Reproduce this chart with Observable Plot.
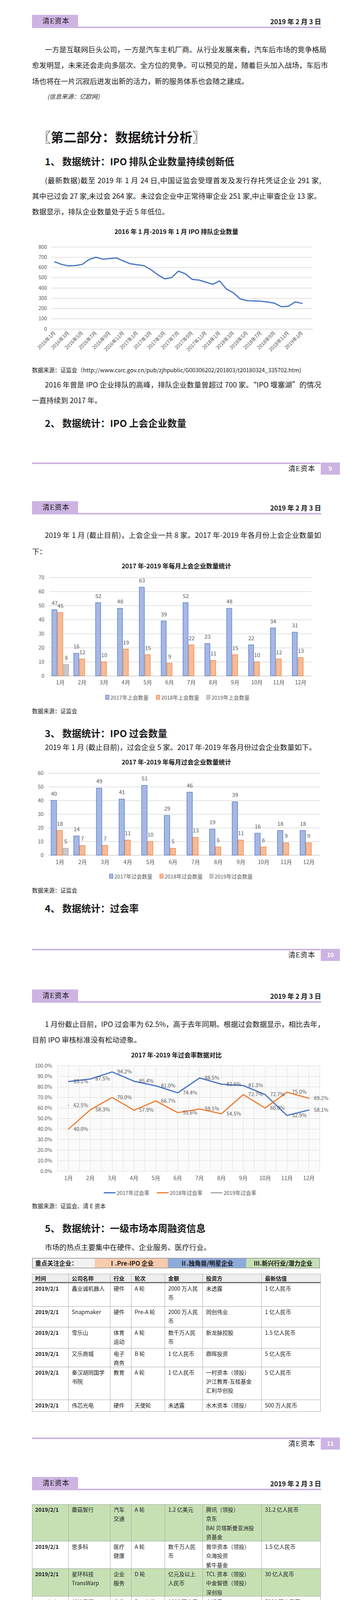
<!DOCTYPE html>
<html><head><meta charset="utf-8">
<script src="https://cdn.jsdelivr.net/npm/d3@7"></script>
<script src="https://cdn.jsdelivr.net/npm/@observablehq/plot@0.6"></script>
<style>
html,body{margin:0;padding:0;background:#fff;}
#page{position:relative;width:897px;height:4991px;overflow:hidden;background:#fff;font-family:"Noto Sans CJK SC","Noto Sans",sans-serif;color:#1a1a1a;}
#page div{box-sizing:border-box;}
</style></head><body><div id="page"></div>
<script>
// ---------------- DATA ----------------
const queueMonths = ["2016年1月","2016年2月","2016年3月","2016年4月","2016年5月","2016年6月","2016年7月","2016年8月","2016年9月","2016年10月","2016年11月","2016年12月",
  "2017年1月","2017年2月","2017年3月","2017年4月","2017年5月","2017年6月","2017年7月","2017年8月","2017年9月","2017年10月","2017年11月","2017年12月",
  "2018年1月","2018年2月","2018年3月","2018年4月","2018年5月","2018年6月","2018年7月","2018年8月","2018年9月","2018年10月","2018年11月","2018年12月",
  "2019年1月","2019年2月"];
const queueCounts = [656,631,616,620,631,679,701,682,688,694,664,637,628,618,580,530,490,502,565,540,485,478,458,437,470,390,355,294,277,274,272,264,252,218,223,265,251];
const queueTicks = [0,100,200,300,400,500,600,700,800];

const months = ["1月","2月","3月","4月","5月","6月","7月","8月","9月","10月","11月","12月"];

const meetingSeries = ["2017年上会数量","2018年上会数量","2019年上会数量"];
const meeting2017 = [47,16,52,48,63,39,52,23,48,22,34,31];
const meeting2018 = [45,12,10,19,15,9,22,11,15,10,12,13];
const meeting2019 = [8];
const meetingTicks = [0,10,20,30,40,50,60,70];

const passSeries = ["2017年过会数量","2018年过会数量","2019年过会数量"];
const pass2017 = [40,14,49,41,51,29,46,19,39,16,18,18];
const pass2018 = [18,7,7,11,10,5,13,6,11,6,9,9];
const pass2019 = [5];
const passTicks = [0,10,20,30,40,50,60];

const rateSeries = ["2017年过会率","2018年过会率","2019年过会率"];
const rate2017 = [85.1,87.5,94.2,85.4,81.0,74.4,88.5,82.6,81.3,72.7,52.9,58.1];
const rate2018 = [40.0,58.3,70.0,57.9,66.7,55.6,59.1,54.5,72.7,60.0,75.0,69.2];
const rate2019 = [62.5];
const rateTicks = [0,10,20,30,40,50,60,70,80,90,100];

const tableHead = ["时间","公司名称","行业","轮次","金额","投资方","最新估值"];
const tableRowsA = [
  ["2019/2/1","鑫业诚机器人","硬件","A 轮","2000 万人民\n币","未透露","1 亿人民币"],
  ["2019/2/1","Snapmaker","硬件","Pre-A 轮","2000 万人民\n币","同创伟业","1 亿人民币"],
  ["2019/2/1","雪乐山","体育\n运动","A 轮","数千万人民\n币","新龙脉控股","1.5 亿人民币"],
  ["2019/2/1","又乐商城","电子\n商务","B 轮","1 亿人民币","鼎晖投资","5 亿人民币"],
  ["2019/2/1","秦汉胡同国学\n书院","教育","A 轮","1 亿人民币","一村资本（领投）\n沪江教育-互桂基金\n汇利华创投","5 亿人民币"],
  ["2019/2/1","伟芯光电","硬件","天使轮","未透露","水木资本（领投）","500 万人民币"]
];
const tableRowsB = [
  ["2019/2/1","蘑菇智行","汽车\n交通","A 轮","1.2 亿美元","腾讯（领投）\n京东\nBAI 贝塔斯曼亚洲投\n资基金","31.2 亿人民币"],
  ["2019/2/1","思多科","医疗\n健康","A 轮","数千万人民\n币","普华资本（领投）\n众海投资\n紫牛基金","1.5 亿人民币"],
  ["2019/2/1","星环科技\nTransWarp","企业\n服务","D 轮","亿元及以上\n人民币","TCL 资本（领投）\n中金智德（领投）\n深创投","30 亿人民币"],
  ["2019/1/31","新钛云服","企业\n服务","Pre-A 轮","1000 万人民\n币","未透露","5000 万人民币"],
  ["2019/1/31","山水原创","文化\n娱乐","战略投资","未透露","华侨城创梦数字创意\n产业基金","5 亿人民币"],
  ["2019/1/31","介方信息","企业\n服务","战略投资","1000 万人民\n币","中科创星","5000 万人民币"],
  ["2019/1/31","亦诺微","医疗\n健康","A+轮","1500 万美元","幂方资本\n涌铧投资\n前海勤智资本","4.88 亿人民币"],
  ["2019/1/31","恺韵来","硬件","天使轮","未透露","逐鹿资本","500 万人民币"],
  ["2019/1/31","妙回春堂","医疗\n健康","天使轮","未透露","华园科创","500 万人民币"],
  ["2019/1/31","家燕妈妈艺术\n中心","教育","Pre-A 轮","1280 万人民\n币","梦想沙龙娱乐（领\n投）\n小橙基金","6400 万人民币"],
  ["2019/1/31","TEEX","企业\n服务","天使轮","数百万美元","红杉资本中国\nGBIC\nNGC","9750 万人民币"],
  ["2019/1/31","健康有益","医疗\n健康","A 轮","1 亿人民币","中信国际资产（领\n投）\n仁爱资本","10 亿人民币"],
  ["2019/1/31","唯柯医疗","医疗\n健康","A 轮","数千万人民\n币","比邻星创投（领投）","5000 万人民币"],
  ["2019/1/31","阿里本地生活\n服务","本地\n生活","战略投资","30 亿美元","阿里巴巴\n软银中国","975 亿人民币"],
  ["2019/1/31","智言科技","企业\n服务","A 轮","数千万人民\n币","同创伟业（领投）\n线性资本","1.5 亿人民币"],
  ["2019/1/31","力达康","医疗\n健康","A 轮","1.1 亿人民币","深创投\n荷塘创投（启迪创\n投）\n强云资本（财务顾\n问）","5 亿人民币"],
  ["2019/1/30","精锋医疗","医疗\n健康","A 轮","数千万人民\n币","未透露","1.5 亿人民币"]
];
const highlightB = [true,false,true,false,false,false,false,false,false,false,false,false,false,false,false,false,false];
const focusCells = ["重点关注企业：","Ⅰ.Pre-IPO 企业","Ⅱ.独角兽/明星企业","Ⅲ.新兴行业/潜力企业"];

// ---------------- LAYOUT HELPERS ----------------
const page = document.getElementById("page");
const FONT = "'Noto Sans CJK SC','Noto Sans',sans-serif";
const PURPLE = "#cdb4e3";
const GRAY_TXT = "#595959";

function box(x, y, w, h, bg, extra = {}) {
  const d = document.createElement("div");
  Object.assign(d.style, {position: "absolute", left: x + "px", top: y + "px", width: w + "px", height: h + "px", background: bg}, extra);
  page.appendChild(d);
  return d;
}
function text(str, x, yc, o = {}) {
  const size = o.size || 18.5;
  const lh = size * 1.4;
  const d = document.createElement("div");
  d.textContent = str;
  Object.assign(d.style, {position: "absolute", top: (yc - lh / 2) + "px", lineHeight: lh + "px", fontSize: size + "px",
    whiteSpace: "nowrap", fontWeight: o.weight || 400, color: o.color || "#1a1a1a", fontStyle: o.italic ? "italic" : "normal",
    fontFamily: o.family || FONT, letterSpacing: (o.ls || 0) + "px"});
  if (o.right != null) { d.style.right = (897 - o.right) + "px"; }
  else if (o.center != null) { const hw = (o.w || 700) / 2; d.style.left = (o.center - hw) + "px"; d.style.width = (2 * hw) + "px"; d.style.textAlign = "center"; }
  else { d.style.left = x + "px"; }
  if (o.justifyTo != null) { d.style.width = (o.justifyTo - x) + "px"; d.style.textAlign = "justify"; d.style.textAlignLast = "justify"; }
  page.appendChild(d);
  return d;
}
function header(T) {
  box(82, T, 118, 30, PURPLE);
  box(82, T + 30, 741, 4, PURPLE);
  text("清E资本", 109, T + 17, {size: 18, family: "'Liberation Serif','Noto Sans CJK SC',serif", ls: 1});
  text("2019 年 2 月 3 日", 0, T + 17, {size: 17, weight: 700, right: 823});
}
function footer(L, n) {
  box(82, L, 739, 4, PURPLE);
  box(822, L, 49, 31, PURPLE);
  text(String(n), 0, L + 14, {size: 15, weight: 700, color: "#ffffff", center: 846.5, w: 48});
  text("清E资本", 0, L + 17, {size: 18, right: 808, family: "'Liberation Serif','Noto Sans CJK SC',serif", ls: 1});
}
function place(node, x, y) {
  const w = document.createElement("div");
  Object.assign(w.style, {position: "absolute", left: x + "px", top: y + "px"});
  w.appendChild(node);
  page.appendChild(w);
}
function legendSquare(x, yc, label, fill, stroke) {
  box(x, yc - 6, 10, 12, fill, {border: "1.3px solid " + stroke});
  text(label, x + 13, yc, {size: 13.5, color: GRAY_TXT});
}
function legendLine(x, yc, label, stroke) {
  box(x, yc - 1.5, 30, 3, stroke);
  text(label, x + 33, yc, {size: 13.5, color: GRAY_TXT});
}
const chartStyle = {fontFamily: FONT, fontSize: "13px", color: GRAY_TXT, background: "transparent", overflow: "visible"};

// ---------------- PAGE 1 ----------------
header(38);
text("一方是互联网巨头公司，一方是汽车主机厂商。从行业发展来看，汽车后市场的竞争格局", 115, 127, {justifyTo: 823});
text("愈发明显，未来还会走向多层次、全方位的竞争。可以预见的是，随着巨头加入战场，车后市", 82, 167, {justifyTo: 823});
text("场也将在一片沉寂后迸发出新的活力，新的服务体系也会随之建成。", 82, 208);
text("(信息来源：亿欧网)", 121, 247, {size: 15.5, italic: true, color: "#333"});
text("〖第二部分：数据统计分析〗", 97, 350, {size: 33, weight: 700});
text("1、 数据统计：IPO 排队企业数量持续创新低", 115, 413, {size: 24.5, weight: 700});
text("(最新数据)截至 2019 年 1 月 24 日,中国证监会受理首发及发行存托凭证企业 291 家,", 115, 462, {justifyTo: 823});
text("其中已过会 27 家,未过会 264 家。未过会企业中正常待审企业 251 家,中止审查企业 13 家。", 82, 502, {justifyTo: 823});
text("数据显示，排队企业数量处于近 5 年低位。", 82, 542);
text("2016 年 1 月-2019 年 1 月 IPO 排队企业数量", 0, 592, {size: 16, weight: 700, center: 452});

const chart1 = Plot.plot({
  width: 760, height: 312, marginLeft: 71, marginRight: 20, marginTop: 32, marginBottom: 70,
  style: chartStyle,
  x: {domain: [-0.5, 37.5]},
  y: {domain: [0, 800]},
  marks: [
    Plot.gridY(queueTicks, {stroke: "#d9d9d9", strokeOpacity: 1, strokeWidth: 1.3}),
    Plot.axisY(queueTicks, {tickSize: 0, tickPadding: 11, label: null}),
    Plot.ruleY([0], {stroke: "#d9d9d9", strokeWidth: 1.5}),
    Plot.axisX(d3.range(-0.5, 38, 2), {tickSize: 5, stroke: "#d9d9d9", tickFormat: () => "", label: null}),
    Plot.axisX(d3.range(0, 37, 2), {tickSize: 0, tickPadding: 8, tickRotate: -45, tickFormat: i => queueMonths[i], label: null, fontSize: 12.5}),
    Plot.line(queueCounts, {x: (d, i) => i, y: d => d, stroke: "#4472c4", strokeWidth: 3})
  ]
});
place(chart1, 60, 600);

text("数据来源：证监会（http://www.csrc.gov.cn/pub/zjhpublic/G00306202/201803/t20180324_335702.htm)", 82, 947, {size: 14.5});
text("2016 年曾是 IPO 企业排队的高峰，排队企业数量曾超过 700 家。“IPO 堰塞湖”的情况", 115, 985, {justifyTo: 823});
text("一直持续到 2017 年。", 82, 1025);
text("2、 数据统计：IPO 上会企业数量", 115, 1083, {size: 24.5, weight: 700});
footer(1184, 9);

// ---------------- PAGE 2 ----------------
header(1283);
text("2019 年 1 月 (截止目前)，上会企业一共 8 家。2017 年-2019 年各月份上会企业数量如", 115, 1370, {justifyTo: 823});
text("下：", 82, 1412);
text("2017 年-2019 年每月上会企业数量统计", 0, 1448, {size: 16, weight: 700, center: 452});

const barFills = ["#a7b7e4", "#f7bb96", "#c9c9c9"];
const barStrokes = ["#4472c4", "#ed7d31", "#a5a5a5"];

function groupedBars(o) {
  const rows = [];
  o.values.forEach((arr, k) => arr.forEach((v, i) => rows.push({month: months[i], series: o.series[k], value: v, k})));
  const marks = [
    Plot.gridY(o.ticks, {stroke: "#d9d9d9", strokeOpacity: 1, strokeWidth: 1.3}),
    Plot.axisY(o.ticks, {tickSize: 0, tickPadding: o.tickPad, label: null}),
    Plot.axisFx({anchor: "bottom", tickSize: 0, tickPadding: o.fxPad, label: null, fontSize: 14}),
    Plot.ruleY([0], {stroke: "#d9d9d9", strokeWidth: 1.8})
  ];
  o.series.forEach((s, k) => {
    marks.push(Plot.barY(rows.filter(r => r.k === k), {fx: "month", x: "series", y: "value", fill: barFills[k], stroke: barStrokes[k], strokeWidth: 1.2}));
  });
  marks.push(Plot.text(rows, {fx: "month", x: "series", y: "value", text: d => String(d.value), dy: -17, fill: GRAY_TXT, fontSize: 14}));
  return Plot.plot({
    width: o.width, height: o.height, marginLeft: o.mL, marginRight: o.mR, marginTop: o.mT, marginBottom: o.mB,
    style: chartStyle,
    fx: {domain: months, padding: 0},
    x: {domain: o.series, paddingInner: o.pIn, paddingOuter: o.pOut, axis: null},
    y: {domain: [0, o.yMax]},
    marks
  });
}

const chart2 = groupedBars({width: 760, height: 310, mL: 62, mR: 19, mT: 18, mB: 40, ticks: meetingTicks, yMax: 70,
  series: meetingSeries, values: [meeting2017, meeting2018, meeting2019], pIn: 0.16, pOut: 0.4, tickPad: 13, fxPad: 12});
place(chart2, 60, 1460);
legendSquare(270, 1785, meetingSeries[0], barFills[0], barStrokes[0]);
legendSquare(400, 1785, meetingSeries[1], barFills[1], barStrokes[1]);
legendSquare(529, 1785, meetingSeries[2], barFills[2], barStrokes[2]);
text("数据来源：证监会", 82, 1820, {size: 14.5});
text("3、 数据统计：IPO 过会数量", 115, 1877, {size: 24.5, weight: 700});
text("2019 年 1 月 (截止目前)，过会企业 5 家。2017 年-2019 年各月份过会企业数量如下。", 115, 1913);
text("2017 年-2019 年每月过会企业数量统计", 0, 1950, {size: 16, weight: 700, center: 452});

const chart3 = groupedBars({width: 780, height: 269, mL: 59, mR: 16, mT: 19, mB: 40, ticks: passTicks, yMax: 60,
  series: passSeries, values: [pass2017, pass2018, pass2019], pIn: 0.08, pOut: 0.375, tickPad: 13, fxPad: 13});
place(chart3, 60, 1960);
legendSquare(280, 2243, passSeries[0], barFills[0], barStrokes[0]);
legendSquare(409, 2243, passSeries[1], barFills[1], barStrokes[1]);
legendSquare(537, 2243, passSeries[2], barFills[2], barStrokes[2]);
text("数据来源：证监会", 82, 2279, {size: 14.5});
text("4、 数据统计：过会率", 115, 2325, {size: 24.5, weight: 700});
footer(2429, 10);

// ---------------- PAGE 3 ----------------
header(2533);
text("1 月份截止目前，IPO 过会率为 62.5%，高于去年同期。根据过会数据显示，相比去年，", 115, 2622, {justifyTo: 823});
text("目前 IPO 审核标准没有松动迹象。", 82, 2662);
text("2017 年-2019 年过会率数据对比", 0, 2700, {size: 16, weight: 700, center: 452});

const rateColors = ["#4472c4", "#ed7d31", "#a5a5a5"];
const rateRows = [];
[rate2017, rate2018, rate2019].forEach((arr, k) => arr.forEach((v, i) => rateRows.push({i, v, k})));
const chart4 = Plot.plot({
  width: 780, height: 328, marginLeft: 87, marginRight: 21, marginTop: 18, marginBottom: 40,
  style: chartStyle,
  x: {domain: [-0.5, 11.5]},
  y: {domain: [0, 100]},
  marks: [
    Plot.frame({fill: "url(#hatch4)"}),
    Plot.gridY(rateTicks, {stroke: "#d9d9d9", strokeOpacity: 1, strokeWidth: 1.2}),
    Plot.gridX(d3.range(-0.5, 11.6, 0.5), {stroke: "#dedede", strokeOpacity: 1, strokeWidth: 1}),
    Plot.axisY(rateTicks, {tickSize: 0, tickPadding: 14, tickFormat: d => d.toFixed(1) + "%", label: null}),
    Plot.axisX(d3.range(0, 12), {tickSize: 0, tickPadding: 13, tickFormat: i => months[i], label: null, fontSize: 14}),
    ...[0, 1, 2].map(k => Plot.line(rateRows.filter(r => r.k === k), {x: "i", y: "v", stroke: rateColors[k], strokeWidth: 3})),
    Plot.text(rateRows, {x: "i", y: "v", text: d => d.v.toFixed(1) + "%", dx: 13, textAnchor: "start", fill: GRAY_TXT, fontSize: 13})
  ]
});
{
  const ns = "http://www.w3.org/2000/svg";
  const defs = document.createElementNS(ns, "defs");
  defs.innerHTML = '<pattern id="hatch4" patternUnits="userSpaceOnUse" width="5" height="5" patternTransform="rotate(-45)"><rect width="5" height="5" fill="#ffffff"/><line x1="0" y1="0" x2="0" y2="5" stroke="#e4e4e4" stroke-width="1.4"/></pattern>';
  chart4.insertBefore(defs, chart4.firstChild);
}
place(chart4, 60, 2710);
legendLine(266, 3053, rateSeries[0], rateColors[0]);
legendLine(402, 3053, rateSeries[1], rateColors[1]);
legendLine(540, 3053, rateSeries[2], rateColors[2]);
text("数据来源：证监会、清 E 资本", 82, 3087, {size: 14.5});
text("5、 数据统计：一级市场本周融资信息", 115, 3144, {size: 24.5, weight: 700});
text("市场的热点主要集中在硬件、企业服务、医疗行业。", 115, 3193);

// focus bar
{
  const xs = [82, 243, 430, 631, 820];
  const bgs = ["#f2f2f2", "#f8cbad", "#8eaadb", "#c5e0b4"];
  focusCells.forEach((t, j) => {
    box(xs[j], 3220, xs[j + 1] - xs[j], 27, bgs[j], {
      borderTop: "2px solid #a6a6a6", borderBottom: "2px solid #a6a6a6",
      borderLeft: j === 0 ? "2px solid #a6a6a6" : "none", borderRight: j === 3 ? "2px solid #a6a6a6" : "none"});
    if (j === 0) text(t, xs[j] + 8, 3233.5, {size: 15.5, weight: 700});
    else text(t, 0, 3233.5, {size: 15.5, weight: 700, center: (xs[j] + xs[j + 1]) / 2, w: xs[j + 1] - xs[j]});
  });
}

// tables: border boxes + free text blocks
const colX = [82, 176, 283, 337, 423, 520, 671, 822];
const BORDER = "1.5px solid #a6a6a6";
function tableRow(cells, top, h, o = {}) {
  cells.forEach((t, j) => {
    box(colX[j], top, colX[j + 1] - colX[j], h, o.bg || "transparent", {
      borderRight: BORDER, borderBottom: o.bottom || BORDER, borderLeft: j === 0 ? BORDER : "none",
      borderTop: o.top ? BORDER : "none"});
    const d = document.createElement("div");
    d.textContent = t;
    Object.assign(d.style, {position: "absolute", left: (colX[j] + 8) + "px", top: (top + (o.padTop != null ? o.padTop : 2)) + "px",
      fontSize: "14px", lineHeight: "23.4px", whiteSpace: "pre", color: "#1f1f1f",
      fontWeight: (j === 0 || o.bold) ? 700 : 400});
    page.appendChild(d);
  });
}
tableRow(tableHead, 3261, 24, {bg: "#eeeeee", top: true, bold: true, bottom: "3px solid #6b6b6b", padTop: 0});
const rowHA = [60, 53, 53.5, 48, 84, 30];
{
  let y = 3285;
  tableRowsA.forEach((r, i) => { tableRow(r, y, rowHA[i]); y += rowHA[i]; });
}
footer(3680, 11);

// ---------------- PAGE 4 ----------------
header(3781);
const rowHB = [95, 70, 71, 48, 48, 46, 71, 24, 48, 71, 72, 70, 48, 48, 47, 118, 47];
{
  let y = 3851;
  tableRowsB.forEach((r, i) => { tableRow(r, y, rowHB[i], {bg: highlightB[i] ? "#c6e0b4" : "transparent", top: i === 0, padTop: rowHB[i] < 30 ? 0.5 : 2}); y += rowHB[i]; });
}
footer(4930, 12);
</script></body></html>
